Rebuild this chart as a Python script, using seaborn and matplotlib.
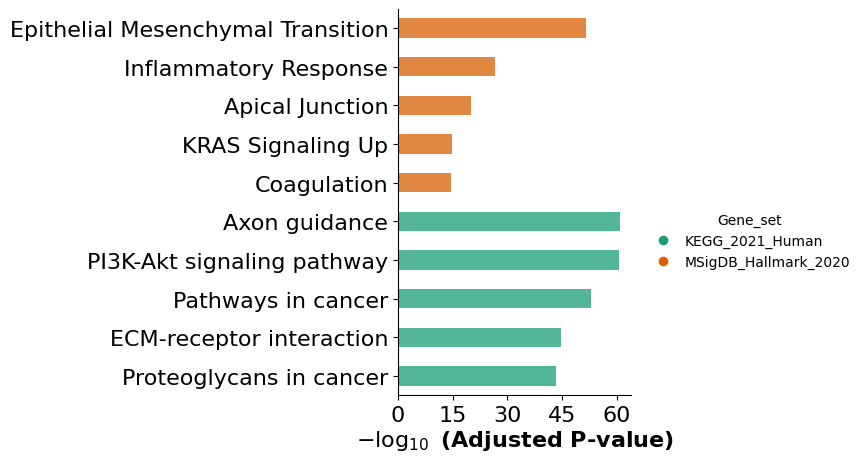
import matplotlib
matplotlib.use("Agg")
import matplotlib.pyplot as plt
from matplotlib.lines import Line2D
import seaborn as sns
import pandas as pd

# Données : termes enrichis et score -log10(p ajustée)
terms = [
    "Epithelial Mesenchymal Transition",
    "Inflammatory Response",
    "Apical Junction",
    "KRAS Signaling Up",
    "Coagulation",
    "Axon guidance",
    "PI3K-Akt signaling pathway",
    "Pathways in cancer",
    "ECM-receptor interaction",
    "Proteoglycans in cancer",
]
scores = [51.7, 26.6, 20.0, 14.8, 14.5, 61.0, 60.7, 53.0, 44.8, 43.4]
gene_sets = ["MSigDB_Hallmark_2020"] * 5 + ["KEGG_2021_Human"] * 5
set_order = ["KEGG_2021_Human", "MSigDB_Hallmark_2020"]
set_colors = ["#1b9e77", "#d95f02"]
xticks = [0, 15, 30, 45, 60]

df = pd.DataFrame({"Term": terms, "score": scores, "Gene_set": gene_sets})
palette = dict(zip(set_order, set_colors))

plt.rcParams["font.family"] = ["DejaVu Sans"]

fig = plt.figure(figsize=(8.68, 4.64), dpi=100)
ax = fig.add_axes([0.4585, 0.146, 0.269, 0.833])

sns.barplot(data=df, x="score", y="Term", hue="Gene_set", hue_order=set_order,
            palette=palette, order=terms, dodge=False, width=0.5, alpha=0.75,
            saturation=1, legend=False, linewidth=0, ax=ax)

ax.set_xticks(xticks)
ax.tick_params(axis="both", labelsize=16)
ax.set_ylabel("")
ax.set_xlabel(r"$- \log_{10}$ (Adjusted P-value)", fontsize=16,
              fontweight="bold", labelpad=2)
sns.despine(ax=ax)

# Légende avec marqueurs ronds
handles = [Line2D([0], [0], marker="o", color="w", markerfacecolor=c,
                  markersize=8, label=s) for s, c in zip(set_order, set_colors)]
ax.legend(handles=handles, title="Gene_set", frameon=False, fontsize=10,
          title_fontsize=10, loc="center left", bbox_to_anchor=(1.02, 0.40),
          handletextpad=0.6)

fig.savefig("out.png", dpi=100)
